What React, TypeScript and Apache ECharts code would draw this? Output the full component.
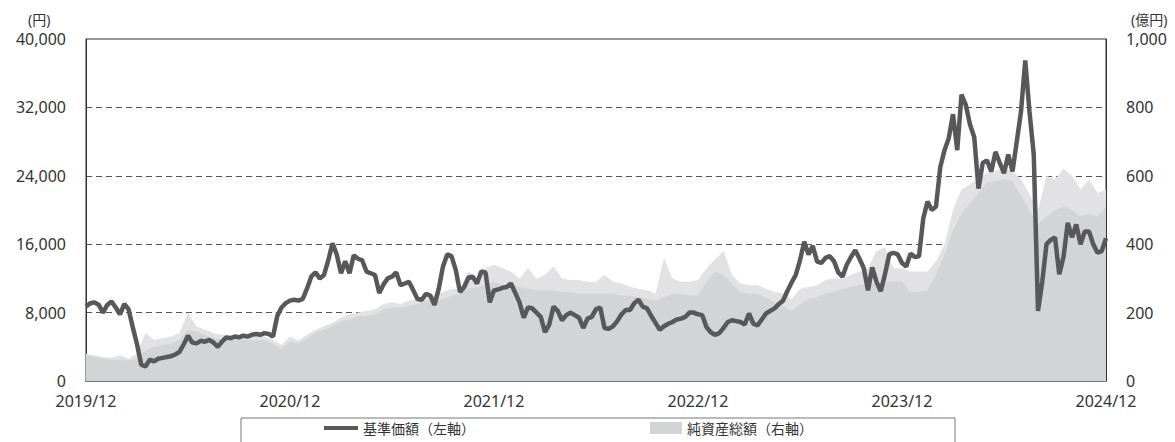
import React, { useEffect, useRef } from "react";
import * as echarts from "echarts";

// x axis: months since 2019/12; ticks every 12 months
const yearLabels = ["2019/12", "2020/12", "2021/12", "2022/12", "2023/12", "2024/12"];

// 基準価額 (円), one reading per quarter month
const navY1 = [8700, 9100, 9200, 8900, 8000, 8900, 9300, 8600, 7800, 9000, 8400, 6300, 4300, 1900, 1700, 2500, 2300, 2600, 2700, 2800, 2900, 3100, 3400, 4300, 5300, 4500, 4400, 4700, 4600, 4800, 4500, 4000, 4600, 5100, 5000, 5200, 5100, 5300, 5200, 5400, 5500, 5400, 5600, 5500, 5200, 7600, 8600, 9100];
const navY2 = [9400, 9500, 9400, 9600, 10800, 12200, 12700, 12000, 12400, 14100, 16100, 14800, 12600, 14000, 12600, 14700, 14300, 14100, 12800, 12600, 12400, 10300, 11300, 12000, 12200, 12700, 11200, 11400, 11600, 10600, 9600, 9500, 10200, 10000, 8900, 10800, 13400, 14800, 14600, 13000, 10400, 11000, 12100, 12200, 11400, 12800, 12700, 9200];
const navY3 = [10600, 10700, 10900, 11000, 11400, 10300, 9200, 7400, 8600, 8500, 8000, 7500, 5700, 6600, 8700, 8200, 7100, 7700, 8000, 7700, 7400, 6200, 7300, 7500, 8400, 8600, 6200, 6100, 6400, 7000, 7800, 8300, 8300, 9100, 9500, 8700, 8500, 7600, 6800, 6000, 6400, 6700, 6900, 7200, 7300, 7500, 8000, 8000];
const navY4 = [7800, 7700, 6300, 5700, 5400, 5600, 6200, 6900, 7100, 7000, 6900, 6600, 7900, 6700, 6500, 7200, 7900, 8200, 8500, 9000, 9400, 10500, 11500, 12400, 14100, 16300, 14800, 15800, 14000, 13800, 14400, 14600, 14000, 12700, 12200, 13600, 14500, 15300, 14300, 13200, 10600, 13300, 11600, 10500, 12500, 14800, 15000, 14800];
const navY5 = [13800, 13400, 14900, 14500, 14600, 19000, 21000, 20000, 20400, 25000, 27000, 28400, 31200, 27000, 33500, 32300, 30000, 28500, 22500, 25500, 25800, 24500, 26800, 25500, 24300, 26500, 24500, 28000, 31500, 37500, 31500, 26500, 8200, 11600, 16000, 16500, 16800, 12500, 14500, 18500, 16800, 18300, 16000, 17500, 17500, 16000, 15000, 15200, 16700];

// 純資産総額 (億円), one reading per half month: body level and spike tops
const aumBaseY1 = [75, 70, 65, 62, 62, 60, 65, 90, 100, 105, 110, 120, 150, 145, 135, 125, 120, 120, 120, 120, 120, 120, 110, 95];
const aumBaseY2 = [115, 110, 125, 140, 150, 160, 175, 180, 190, 190, 195, 210, 215, 215, 220, 225, 235, 235, 240, 250, 255, 270, 275, 280];
const aumBaseY3 = [290, 280, 285, 275, 270, 265, 265, 265, 260, 260, 255, 255, 255, 255, 255, 250, 250, 245, 240, 235, 245, 255, 255, 250];
const aumBaseY4 = [250, 290, 320, 310, 285, 260, 255, 255, 245, 230, 220, 205, 225, 240, 245, 255, 260, 270, 275, 280, 285, 285, 290, 290];
const aumBaseY5 = [290, 260, 260, 265, 310, 370, 440, 490, 520, 550, 580, 585, 590, 585, 540, 500, 460, 480, 500, 510, 500, 480, 490, 480, 510];

const aumPeakY1 = [80, 75, 70, 68, 75, 65, 80, 140, 120, 125, 130, 140, 200, 160, 150, 140, 135, 135, 130, 135, 130, 130, 120, 105];
const aumPeakY2 = [130, 118, 135, 150, 160, 170, 185, 195, 200, 205, 210, 225, 230, 225, 235, 240, 245, 250, 260, 270, 270, 320, 300, 330];
const aumPeakY3 = [340, 330, 320, 300, 330, 300, 310, 335, 300, 295, 295, 290, 290, 310, 290, 285, 275, 270, 265, 255, 360, 300, 290, 290];
const aumPeakY4 = [295, 330, 355, 380, 310, 285, 280, 280, 270, 260, 255, 240, 270, 275, 280, 295, 300, 300, 310, 320, 330, 380, 390, 330];
const aumPeakY5 = [330, 320, 320, 320, 350, 400, 500, 560, 575, 590, 610, 615, 620, 615, 590, 545, 500, 600, 590, 620, 600, 560, 590, 550, 560];

const nav = [...navY1, ...navY2, ...navY3, ...navY4, ...navY5];
const aumBase = [...aumBaseY1, ...aumBaseY2, ...aumBaseY3, ...aumBaseY4, ...aumBaseY5];
const aumPeak = [...aumPeakY1, ...aumPeakY2, ...aumPeakY3, ...aumPeakY4, ...aumPeakY5];

const NAV_NAME = "基準価額（左軸）";
const AUM_NAME = "純資産総額（右軸）";

export default function App() {
  const ref = useRef<HTMLDivElement>(null);
  useEffect(() => {
    document.body.style.margin = "0";
    const chart = echarts.init(ref.current!, null, { renderer: "svg" });
    const font = "'Noto Sans', 'Noto Sans CJK JP', sans-serif";
    const labelStyle = { fontSize: 16, color: "#333", fontFamily: font };
    chart.setOption({
      animation: false,
      textStyle: { fontFamily: font },
      grid: { left: 86, right: 69, top: 39, bottom: 61, show: true, borderColor: "#333", borderWidth: 1, backgroundColor: "transparent" },
      xAxis: {
        type: "value",
        min: 0,
        max: 60,
        interval: 12,
        axisLine: { show: true, lineStyle: { color: "#777", width: 2 } },
        axisTick: { show: true, inside: true, length: 6, lineStyle: { color: "#333" } },
        axisLabel: { ...labelStyle, margin: 12, formatter: (v: number) => yearLabels[Math.round(v / 12)] },
        splitLine: { show: false },
      },
      yAxis: [
        {
          type: "value",
          min: 0,
          max: 40000,
          interval: 8000,
          axisLine: { show: true, lineStyle: { color: "#333" } },
          axisTick: { show: false },
          axisLabel: { ...labelStyle, margin: 20, formatter: (v: number) => v.toLocaleString("en-US") },
          splitLine: { show: true, showMinLine: false, showMaxLine: false, lineStyle: { type: [6, 4], color: "#555", width: 1 } },
        },
        {
          type: "value",
          min: 0,
          max: 1000,
          interval: 200,
          position: "right",
          axisLine: { show: true, lineStyle: { color: "#333" } },
          axisTick: { show: false },
          axisLabel: { ...labelStyle, margin: 20, formatter: (v: number) => v.toLocaleString("en-US") },
          splitLine: { show: false },
        },
      ],
      legend: [
        {
          data: [{ name: NAV_NAME, icon: "rect" }],
          left: 322,
          top: 419,
          padding: 2,
          itemWidth: 34,
          itemHeight: 4,
          selectedMode: false,
          textStyle: { fontSize: 14, color: "#333", fontFamily: font },
        },
        {
          data: [{ name: AUM_NAME, icon: "rect" }],
          left: 648,
          top: 419,
          padding: 2,
          itemWidth: 32,
          itemHeight: 12,
          selectedMode: false,
          textStyle: { fontSize: 14, color: "#333", fontFamily: font },
        },
      ],
      graphic: [
        { type: "text", left: 28, top: 12, style: { text: "(円)", fontSize: 14, fill: "#333", fontFamily: font } },
        { type: "text", left: 1131, top: 12, style: { text: "(億円)", fontSize: 14, fill: "#333", fontFamily: font } },
        { type: "rect", shape: { x: 241, y: 418, width: 714, height: 40 }, style: { fill: "none", stroke: "#777", lineWidth: 1 }, silent: true },
      ],
      series: [
        {
          type: "line",
          yAxisIndex: 1,
          data: aumPeak.map((v, i) => [i / 2, v]),
          showSymbol: false,
          silent: true,
          lineStyle: { width: 0 },
          itemStyle: { color: "#e2e2e4" },
          areaStyle: { color: "#e2e2e4", opacity: 1 },
          z: 1,
        },
        {
          name: AUM_NAME,
          type: "line",
          yAxisIndex: 1,
          data: aumBase.map((v, i) => [i / 2, v]),
          showSymbol: false,
          lineStyle: { width: 0 },
          itemStyle: { color: "#d3d4d6" },
          areaStyle: { color: "#d3d4d6", opacity: 1 },
          z: 2,
        },
        {
          name: NAV_NAME,
          type: "line",
          yAxisIndex: 0,
          data: nav.map((v, j) => [j / 4, v]),
          showSymbol: false,
          lineStyle: { width: 4.5, color: "#58585a" },
          itemStyle: { color: "#58585a" },
          z: 3,
        },
      ],
    });
    return () => chart.dispose();
  }, []);
  return <div ref={ref} style={{ width: 1175, height: 442 }} />;
}
